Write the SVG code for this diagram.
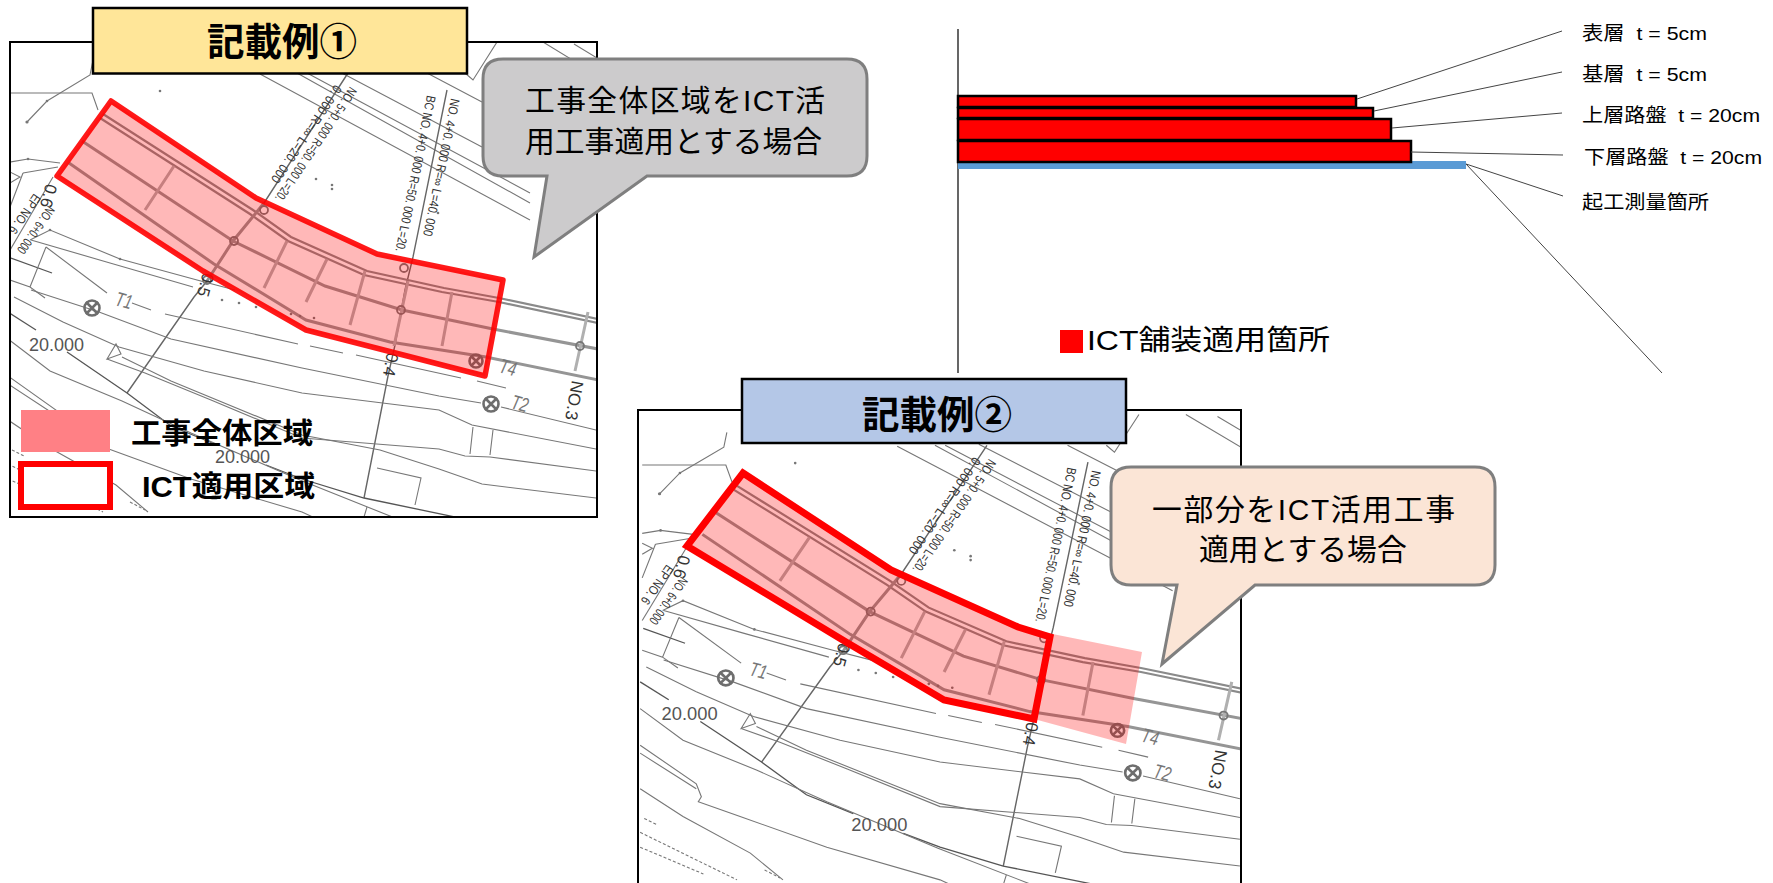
<svg xmlns="http://www.w3.org/2000/svg" xmlns:xlink="http://www.w3.org/1999/xlink" width="1773" height="883" viewBox="0 0 1773 883">
<style>
text{font-family:"Liberation Sans","Noto Sans CJK JP",sans-serif}
.frame{fill:#fff;stroke:#000;stroke-width:2}
.t{fill:none;stroke:#777;stroke-width:1.1}
.m{fill:none;stroke:#666;stroke-width:1.4}
.d{fill:none;stroke:#555;stroke-width:1.3}
.rd{fill:none;stroke:#8a8a8a;stroke-width:2.2}
.rl{fill:none;stroke:#959595;stroke-width:3}
.no{fill:none;stroke:#b0b0b0;stroke-width:3}
.mk{fill:none;stroke:#777;stroke-width:1.8}
.mk2{fill:none;stroke:#6e6e6e;stroke-width:2.6}
.dot{fill:#777}
.sta{font-size:13px;fill:#333}
.kp{font-size:17px;fill:#333}
.w{font-size:18px;fill:#555}
.tn{font-size:20px;fill:#777;font-style:italic}
.title{stroke:#000;stroke-width:2.5}
.tt{font-family:"Noto Sans CJK JP",sans-serif;font-size:37.5px;font-weight:bold;text-anchor:middle;fill:#000}
.co{stroke:#7f7f7f;stroke-width:3}
.cot{font-size:29.8px;fill:#000}
.lg{font-size:29px;font-weight:bold;fill:#000}
.ly{fill:#f00;stroke:#000;stroke-width:2.5}
.ld{fill:none;stroke:#444;stroke-width:1}
.lb{font-size:19px;fill:#000;white-space:pre}
</style>
<defs>
<clipPath id="c1"><rect x="11" y="43" width="585" height="473"/></clipPath>
<clipPath id="c2"><rect x="639" y="411" width="601" height="472"/></clipPath>
<g id="base">
<path class="t" stroke-width="1.4" d="M93 60L90 75L47 101L27 122"/>
<path class="t" d="M10 93H92L98 110M10 162L28 159L60 163M23 173L58 167M23 173L10 207M10 172L20 177L10 183"/>
<path class="t" d="M53 177L10 250"/>
<path class="d" d="M11 258L52 273"/>
<path class="t" d="M30 240L50 230L120 259L197 280L235 290"/>
<path class="t" d="M31 240L110 263L193 287"/>
<path class="t" d="M46 247L30 287M46 247L107 293M10 280L30 287L45 298"/>
<path class="t" d="M132 303L151 310M165 314L298 344M310 346L343 353M356 355L461 378M477 381L506 388"/>
<path class="t" d="M260 74L530 220M297 73L530 203M307 73L530 193M340 72L482 147M427 73L482 102M497 42L473 80L465 73M543 42L597 75M574 44L597 58"/>
<path class="m" d="M348 73L264 203L233 241L207 281L194 297L127 393"/>
<path class="m" d="M447 90L413 257L405 290L395 345L388 376L364 498"/>
<path class="d" d="M67 352L127 393L171 426L217 445M266 465L302 479L364 498L455 517"/>
<path class="d" d="M8 312L36 330"/>
<path class="t" d="M31 290L99 312L171 339L302 368L439 396L481 403M501 407L596 430"/>
<path class="t" d="M14 297L63 322L119 347L204 371L302 393L439 410L472 425L596 449"/>
<path class="t" d="M107 359L145 373L211 400L302 438L439 449L465 456L490 457L596 471"/>
<path class="t" d="M122 357L171 381L302 435L380 450L439 469L482 484L596 498"/>
<path class="t" d="M8 339L50 371L122 401L191 433L300 480L400 520"/>
<path class="t" d="M8 376L63 415L68 428L65 433L106 448L191 479L302 512L330 525"/>
<path class="t" d="M8 384L63 420M8 420L50 448L116 485L148 512"/>
<path class="t" stroke-dasharray="3 2" d="M8 464L103 512M8 479L70 506M12 450L24 456M130 502L145 510"/>
<path class="t" d="M107 359L116 344L121 354Z"/>
<path class="t" d="M473 427L470 454M493 430L490 455"/>
<path class="t" d="M377 468L421 478L415 505M367 507L364 517"/>
<path class="rd" d="M103 114L253 210L291 237L367 271L444 288L499 298L598 319M100 118L250 214L288 241L364 275L442 292L499 302L598 323"/>
<path class="rl" d="M82 141L233 241L325 286L402 310L493 329L598 349"/>
<path class="rl" stroke-width="4" d="M69 163L214 264L306 320L390 342L486 357L598 380"/>
<path class="no" d="M174 166L145 210M287 241L264 288M327 259L306 302M365 271L350 325M408 281L394 346M452 292L442 346M588 312L575 371"/>
<path class="rl" d="M264 203L233 241L207 281"/>
<circle class="mk" cx="234" cy="241" r="4"/><circle class="mk" cx="401" cy="310" r="4"/><circle class="mk" cx="264" cy="210" r="4"/><circle class="mk" cx="404" cy="268" r="4"/><circle class="mk" cx="207" cy="280" r="4"/><circle class="mk" cx="580" cy="346" r="4"/>
<g id="mh"><circle class="mk2" cx="92" cy="308" r="7.5"/><path class="mk2" d="M86 302L98 314M98 302L86 314"/></g>
<circle class="mk2" cx="491" cy="404" r="7.5"/><path class="mk2" d="M485 398L497 410M497 398L485 410"/>
<circle class="mk2" cx="476" cy="361" r="6.5"/><path class="mk2" d="M471 356L481 366M481 356L471 366"/>
<g class="dot"><circle cx="222" cy="300" r="1.3"/><circle cx="239" cy="303" r="1.3"/><circle cx="256" cy="307" r="1.3"/><circle cx="291" cy="314" r="1.3"/><circle cx="300" cy="316" r="1.3"/><circle cx="314" cy="318" r="1.3"/><circle cx="316" cy="179" r="1.3"/><circle cx="332" cy="185" r="1.3"/><circle cx="332" cy="189" r="1.3"/><circle cx="438" cy="213" r="1.3"/><circle cx="160" cy="91" r="1.3"/><circle cx="27" cy="122" r="1.6"/><circle cx="47" cy="101" r="1.3"/><circle cx="28" cy="159" r="1.3"/><circle cx="50" cy="230" r="1.3"/><circle cx="120" cy="259" r="1.3"/></g>
</g>
</defs>

<g id="map1">
<rect class="frame" x="10" y="42" width="587" height="475"/>
<g clip-path="url(#c1)">
<use xlink:href="#base" href="#base"/>
<text class="sta" transform="translate(427,95) rotate(101.5)" textLength="159" lengthAdjust="spacingAndGlyphs">BC NO. 4+0. 000 R=50. 000 L=20.</text>
<text class="sta" transform="translate(451,98) rotate(101.5)" textLength="140" lengthAdjust="spacingAndGlyphs">NO. 4+0. 000 R=∞ L=40. 000</text>
<text class="sta" transform="translate(335,84) rotate(124)" textLength="115" lengthAdjust="spacingAndGlyphs">0. 000 R=∞ L=20. 000</text>
<text class="sta" transform="translate(350,86) rotate(124)" textLength="135" lengthAdjust="spacingAndGlyphs">NO. 5+0. 000 R=50. 000 L=20.</text>
<text class="sta" transform="translate(48,205) rotate(125)" textLength="55" lengthAdjust="spacingAndGlyphs">NO. 6+0. 000</text>
<text class="sta" transform="translate(34,193) rotate(125)" textLength="45" lengthAdjust="spacingAndGlyphs">EP NO. 6</text>
<text class="kp" transform="translate(46,183) rotate(105)">0.6</text>
<text class="kp" transform="translate(203,272) rotate(105)">0.5</text>
<text class="kp" transform="translate(387,352) rotate(100)">0.4</text>
<text class="kp" transform="translate(572,380) rotate(100)">NO.3</text>
<text class="w" x="29" y="351">20.000</text>
<text class="w" x="215" y="463">20.000</text>
<text class="tn" transform="translate(114,305) rotate(15)" textLength="17" lengthAdjust="spacingAndGlyphs">T1</text>
<text class="tn" transform="translate(510,408) rotate(15)" textLength="17" lengthAdjust="spacingAndGlyphs">T2</text>
<text class="tn" transform="translate(498,372) rotate(15)" textLength="17" lengthAdjust="spacingAndGlyphs">T4</text>
</g>
<path fill="#ff0000" fill-opacity=".28" stroke="#f00" stroke-opacity=".9" stroke-width="5.5" stroke-linejoin="round" d="M111 101L256 198L377 254L503 280L485 376L306 330L203 271L57 176Z"/>
</g>

<g id="map2">
<rect class="frame" x="638" y="410" width="603" height="480"/>
<g clip-path="url(#c2)">
<g transform="translate(632,373) scale(1.02,.99)">
<use xlink:href="#base" href="#base"/>
<text class="sta" transform="translate(427,95) rotate(101.5)" textLength="159" lengthAdjust="spacingAndGlyphs">BC NO. 4+0. 000 R=50. 000 L=20.</text>
<text class="sta" transform="translate(451,98) rotate(101.5)" textLength="140" lengthAdjust="spacingAndGlyphs">NO. 4+0. 000 R=∞ L=40. 000</text>
<text class="sta" transform="translate(335,84) rotate(124)" textLength="115" lengthAdjust="spacingAndGlyphs">0. 000 R=∞ L=20. 000</text>
<text class="sta" transform="translate(350,86) rotate(124)" textLength="135" lengthAdjust="spacingAndGlyphs">NO. 5+0. 000 R=50. 000 L=20.</text>
<text class="sta" transform="translate(48,205) rotate(125)" textLength="55" lengthAdjust="spacingAndGlyphs">NO. 6+0. 000</text>
<text class="sta" transform="translate(34,193) rotate(125)" textLength="45" lengthAdjust="spacingAndGlyphs">EP NO. 6</text>
<text class="kp" transform="translate(46,183) rotate(105)">0.6</text>
<text class="kp" transform="translate(203,272) rotate(105)">0.5</text>
<text class="kp" transform="translate(387,352) rotate(100)">0.4</text>
<text class="kp" transform="translate(572,380) rotate(100)">NO.3</text>
<text class="w" x="29" y="351">20.000</text>
<text class="w" x="215" y="463">20.000</text>
<text class="tn" transform="translate(114,305) rotate(15)" textLength="17" lengthAdjust="spacingAndGlyphs">T1</text>
<text class="tn" transform="translate(510,408) rotate(15)" textLength="17" lengthAdjust="spacingAndGlyphs">T2</text>
<text class="tn" transform="translate(498,372) rotate(15)" textLength="17" lengthAdjust="spacingAndGlyphs">T4</text>
</g>
</g>
<path fill="#ff0000" fill-opacity=".28" d="M743 473L891 570L1018 627L1142 652L1126 744L1034 719L944 700L846 642L687 546Z"/>
<path fill="none" stroke="#f00" stroke-width="7" d="M743 473L891 570L1018 627L1050 637L1034 719L944 700L846 642L687 546Z"/>
</g>

<g id="title1"><rect class="title" x="93" y="8" width="374" height="65.5" fill="#ffe699"/><text class="tt" x="282" y="55">記載例①</text></g>
<g id="title2"><rect class="title" x="742" y="379" width="384" height="64" fill="#b4c7e7"/><text class="tt" x="937" y="428">記載例②</text></g>

<g id="callout1"><path class="co" fill="#cccbcc" d="M503 59H847Q867 59 867 79V156Q867 176 847 176H647L534 257L547 176H503Q483 176 483 156V79Q483 59 503 59Z"/>
<text class="cot" x="525" y="111" textLength="300">工事全体区域をICT活</text><text class="cot" x="525" y="152">用工事適用とする場合</text></g>
<g id="callout2"><path class="co" fill="#fbe5d6" d="M1131 467H1475Q1495 467 1495 487V565Q1495 585 1475 585H1255L1162 664L1177 585H1131Q1111 585 1111 565V487Q1111 467 1131 467Z"/>
<text class="cot" x="1152" y="520" textLength="303">一部分をICT活用工事</text><text class="cot" x="1199" y="560">適用とする場合</text></g>

<g id="legend">
<rect x="21" y="410" width="89" height="42" fill="#ff8085"/>
<rect x="21" y="464" width="89" height="43" fill="#fff" stroke="#f00" stroke-width="6"/>
<text class="lg" x="131" y="444" textLength="182" lengthAdjust="spacingAndGlyphs">工事全体区域</text>
<text class="lg" x="142" y="497" textLength="173" lengthAdjust="spacingAndGlyphs">ICT適用区域</text>
</g>

<g id="pavement">
<line x1="958" y1="29" x2="958" y2="373" stroke="#000" stroke-width="1.2"/>
<rect x="958" y="161" width="508" height="8" fill="#5b9bd5"/>
<rect class="ly" x="958" y="96" width="398" height="11"/>
<rect class="ly" x="958" y="108" width="415" height="10"/>
<rect class="ly" x="958" y="119" width="433" height="21"/>
<rect class="ly" x="958" y="141" width="453" height="21"/>
</g>
<g id="connectors">
<path class="ld" d="M1357 99L1562 31M1374 111L1562 72M1392 128L1562 113M1411 152L1563 155M1466 164L1563 196M1466 164L1662 373"/>
</g>
<g id="labels">
<text class="lb" x="1582" y="40" textLength="125" lengthAdjust="spacingAndGlyphs">表層  t = 5cm</text>
<text class="lb" x="1582" y="81" textLength="125" lengthAdjust="spacingAndGlyphs">基層  t = 5cm</text>
<text class="lb" x="1582" y="122" textLength="178" lengthAdjust="spacingAndGlyphs">上層路盤  t = 20cm</text>
<text class="lb" x="1584" y="164" textLength="178" lengthAdjust="spacingAndGlyphs">下層路盤  t = 20cm</text>
<text class="lb" x="1582" y="209" textLength="127" lengthAdjust="spacingAndGlyphs">起工測量箇所</text>
</g>
<g id="ict-note">
<rect x="1060" y="330" width="23" height="23" fill="#f00"/>
<text x="1087" y="350" font-size="28" fill="#000" textLength="243" lengthAdjust="spacingAndGlyphs">ICT舗装適用箇所</text>
</g>
</svg>
